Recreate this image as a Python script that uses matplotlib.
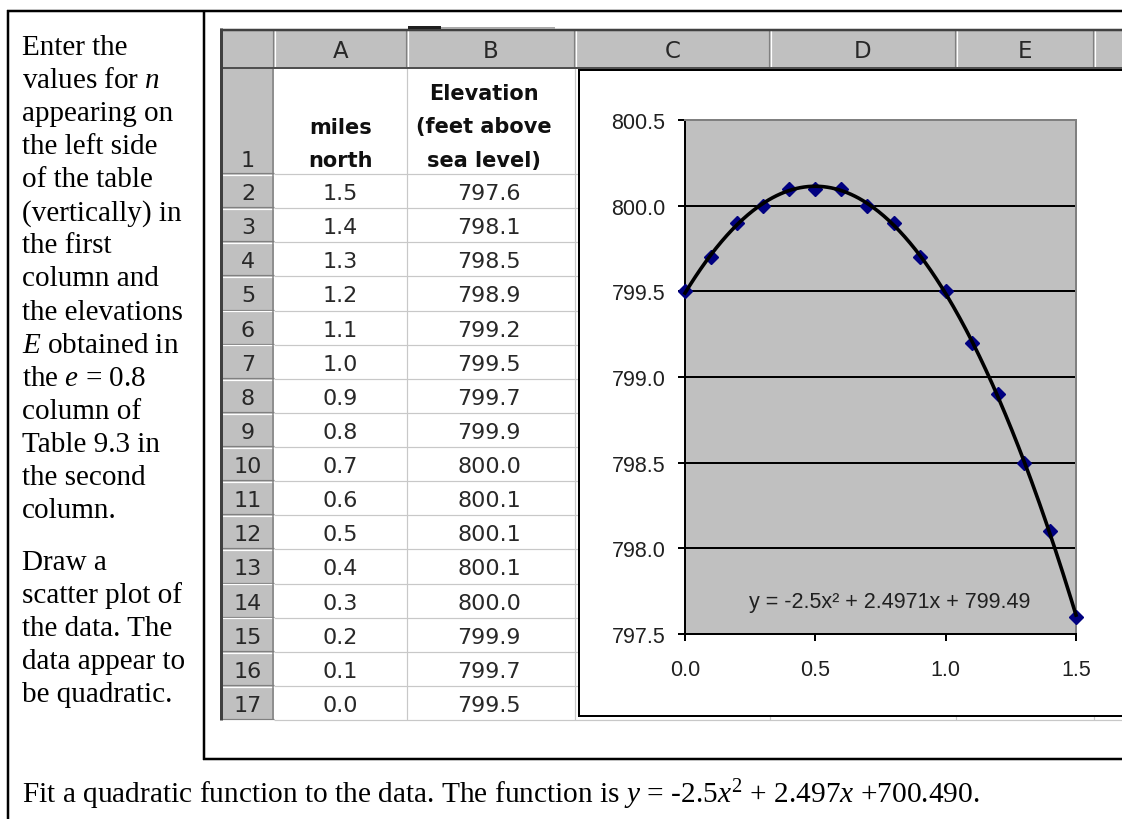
import numpy as np
import matplotlib
matplotlib.use('Agg')
import matplotlib.pyplot as plt
from matplotlib.patches import Rectangle

plt.rcParams['mathtext.fontset'] = 'custom'
plt.rcParams['mathtext.rm'] = 'Liberation Serif'
plt.rcParams['mathtext.it'] = 'Liberation Serif:italic'

# ---------------- data ----------------
miles = [1.5, 1.4, 1.3, 1.2, 1.1, 1.0, 0.9, 0.8, 0.7, 0.6, 0.5, 0.4, 0.3, 0.2, 0.1, 0.0]
elevation = [797.6, 798.1, 798.5, 798.9, 799.2, 799.5, 799.7, 799.9,
             800.0, 800.1, 800.1, 800.1, 800.0, 799.9, 799.7, 799.5]
column_letters = ['A', 'B', 'C', 'D', 'E']
header_miles = ['miles', 'north']
header_elev = ['Elevation', '(feet above', 'sea level)']
y_ticks = [797.5, 798.0, 798.5, 799.0, 799.5, 800.0, 800.5]
x_ticks = [0.0, 0.5, 1.0, 1.5]
trend_label = 'y = -2.5x\u00b2 + 2.4971x + 799.49'
left_para1 = ['Enter the', 'values for $n$', 'appearing on', 'the left side',
              'of the table', '(vertically) in', 'the first', 'column and',
              'the elevations', '$E$ obtained in', 'the $e$ = 0.8', 'column of',
              'Table 9.3 in', 'the second', 'column.']
left_para2 = ['Draw a', 'scatter plot of', 'the data. The', 'data appear to',
              'be quadratic.']
bottom_text = ('Fit a quadratic function to the data. The function is '
               '$y$ = -2.5$x^2$ + 2.497$x$ +700.490.')

# ---------------- figure ----------------
W, H = 1122, 820
PX = 0.72  # points per pixel at dpi 100
fig = plt.figure(figsize=(W / 100, H / 100), dpi=100)
bg = fig.add_axes([0, 0, 1, 1])
bg.set_xlim(0, W)
bg.set_ylim(H, 0)
bg.axis('off')


def hline(y, x0, x1, color, lw=1.0, z=2):
    bg.plot([x0, x1], [y, y], color=color, lw=lw * PX, zorder=z,
            solid_capstyle='butt')


def vline(x, y0, y1, color, lw=1.0, z=2):
    bg.plot([x, x], [y0, y1], color=color, lw=lw * PX, zorder=z,
            solid_capstyle='butt')


# document frame
vline(8, 11, H + 5, 'black', 2.5, 8)
hline(12, 7, W + 5, 'black', 2.5, 8)
vline(204, 11, 761, 'black', 2.5, 8)
hline(760, 203, W + 5, 'black', 2.5, 8)

serif = 'Liberation Serif'
fs_doc = 21
for i, s in enumerate(left_para1):
    bg.text(22, 55 + i * 33.07, s, fontsize=fs_doc, family=serif,
            va='baseline', ha='left')
for i, s in enumerate(left_para2):
    bg.text(22, 570 + i * 33.0, s, fontsize=fs_doc, family=serif,
            va='baseline', ha='left')
bg.text(22, 803, bottom_text, fontsize=21.2, family=serif,
        va='baseline', ha='left')

# ---------------- spreadsheet ----------------
col_edges = [220, 274, 407, 575, 770, 956, 1094, W + 10]
hdr_top, hdr_bot = 31, 69
row1_bot = 175
row_h = (721 - 175) / 16.0
row_edges = [hdr_bot, row1_bot] + [row1_bot + row_h * (k + 1) for k in range(16)]
sheet_bot = row_edges[-1]

bg.add_patch(Rectangle((220, hdr_top), W - 220 + 10, hdr_bot - hdr_top,
                       facecolor='#C0C0C0', edgecolor='none', zorder=1))
bg.add_patch(Rectangle((220, hdr_bot), 54, sheet_bot - hdr_bot,
                       facecolor='#C0C0C0', edgecolor='none', zorder=1))

# cell grid
for y in row_edges[1:]:
    hline(y, 274, W + 5, '#C8C8C8', 1.2, 2)
for x in col_edges[2:-1]:
    vline(x, hdr_bot, sheet_bot, '#C8C8C8', 1.2, 2)

# row header 3D separators
for y in row_edges[1:]:
    hline(y - 1, 222, 274, '#808080', 1.2, 3)
    hline(y + 0.8, 222, 274, '#FFFFFF', 1.2, 3)
vline(273.5, hdr_bot, sheet_bot, '#808080', 1.5, 3)
# column header separators
for x in col_edges[1:-1]:
    vline(x - 1, hdr_top, hdr_bot, '#808080', 1.2, 3)
    vline(x + 0.8, hdr_top, hdr_bot, '#FFFFFF', 1.2, 3)
hline(hdr_bot, 220, W + 5, '#505050', 2.0, 4)
hline(hdr_top, 220, W + 5, '#404040', 2.5, 4)
vline(221.5, hdr_top - 2, sheet_bot, '#404040', 3.0, 4)

# small tab above sheet
bg.add_patch(Rectangle((408, 26.5), 33, 3.5, facecolor='#202020',
                       edgecolor='none', zorder=4))
bg.add_patch(Rectangle((441, 27.5), 114, 2.5, facecolor='#A8A8A8',
                       edgecolor='none', zorder=4))

cell_font = 'DejaVu Sans'
fs_cell = 16
txt_col = '#282828'
for i, letter in enumerate(column_letters):
    cx = (col_edges[i + 1] + col_edges[i + 2]) / 2
    bg.text(cx, (hdr_top + hdr_bot) / 2 + 2, letter, fontsize=fs_cell + 0.5,
            family=cell_font, ha='center', va='center', color=txt_col, zorder=5)

rh_cx = (col_edges[0] + col_edges[1]) / 2 + 1
bg.text(rh_cx, 167, '1', fontsize=fs_cell, family=cell_font, ha='center',
        va='baseline', color=txt_col, zorder=5)
a_cx = (col_edges[1] + col_edges[2]) / 2
b_cx = (col_edges[2] + col_edges[3]) / 2
for j, s in enumerate(header_miles):
    bg.text(a_cx, 134 + j * 33, s, fontsize=fs_cell - 1, family=cell_font,
            weight='bold', ha='center', va='baseline', color='#101010', zorder=5)
for j, s in enumerate(header_elev):
    bg.text(b_cx - 7, 100 + j * 33.5, s, fontsize=fs_cell - 1, family=cell_font,
            weight='bold', ha='center', va='baseline', color='#101010', zorder=5)

for k, (m, e) in enumerate(zip(miles, elevation)):
    cy = (row_edges[k + 1] + row_edges[k + 2]) / 2 + 2
    bg.text(rh_cx, cy, str(k + 2), fontsize=fs_cell, family=cell_font,
            ha='center', va='center', color=txt_col, zorder=5)
    bg.text(a_cx, cy, f'{m:.1f}', fontsize=fs_cell, family=cell_font,
            ha='center', va='center', color=txt_col, zorder=5)
    bg.text(b_cx - 2, cy, f'{e:.1f}', fontsize=fs_cell, family=cell_font,
            ha='center', va='center', color=txt_col, zorder=5)

# chart object box
bg.add_patch(Rectangle((579.5, 71), 700, 646, facecolor='white',
                       edgecolor='black', lw=2.0 * PX, zorder=6))

# ---------------- chart ----------------
pl, pr, pt, pb = 685, 1076, 121, 635
ax = fig.add_axes([pl / W, 1 - pb / H, (pr - pl) / W, (pb - pt) / H])
ax.set_zorder(10)
ax.set_facecolor('#C0C0C0')
ax.set_xlim(x_ticks[0], x_ticks[-1])
ax.set_ylim(y_ticks[0], y_ticks[-1])

for yv in y_ticks[1:-1]:
    ax.axhline(yv, color='black', lw=2.0 * PX, zorder=1)

coefs = np.polyfit(miles, elevation, 2)
xs = np.linspace(min(miles), max(miles), 300)
ax.plot(miles, elevation, linestyle='none', marker='D', color='#000080',
        ms=6.8, zorder=3, clip_on=False)
ax.plot(xs, np.polyval(coefs, xs), color='black', lw=3.6 * PX, zorder=4,
        clip_on=False)

sans = 'Liberation Sans'
ax.text(0.786, 797.69, trend_label, fontsize=15.5, family=sans,
        ha='center', va='center', color='#202020', zorder=5)

ax.spines['left'].set_color('black')
ax.spines['bottom'].set_color('black')
ax.spines['left'].set_linewidth(2.0 * PX)
ax.spines['bottom'].set_linewidth(2.0 * PX)
ax.spines['top'].set_color('#808080')
ax.spines['right'].set_color('#808080')
ax.spines['top'].set_linewidth(2.0 * PX)
ax.spines['right'].set_linewidth(2.0 * PX)

ax.set_xticks(x_ticks)
ax.set_yticks(y_ticks)
ax.set_xticklabels([f'{v:.1f}' for v in x_ticks])
ax.set_yticklabels([f'{v:.1f}' for v in y_ticks])
ax.tick_params(axis='both', direction='out', length=7 * PX, width=2.0 * PX,
               colors='black', labelsize=15.5, labelcolor='#202020')
ax.tick_params(axis='y', pad=9)
ax.tick_params(axis='x', pad=13)
for lab in ax.get_xticklabels() + ax.get_yticklabels():
    lab.set_family(sans)

fig.savefig('out.png', dpi=100)
